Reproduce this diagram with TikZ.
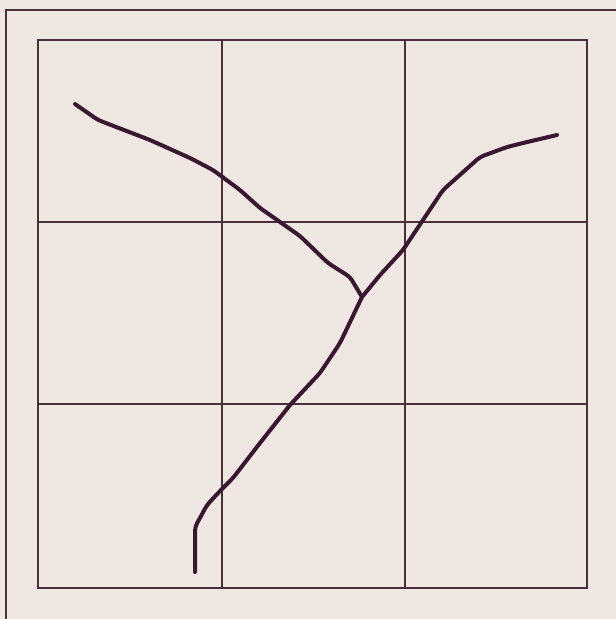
\documentclass[tikz,border=0pt]{standalone}
\begin{document}
\begin{tikzpicture}[x=1pt,y=-1pt,
  gridline/.style={draw=gridcol,line width=1.3pt},
  framebox/.style={draw=gridcol,line width=1.8pt},
  branch/.style={draw=curvecol,line width=4pt,line cap=round,line join=round,rounded corners=4pt}]
\definecolor{gridcol}{HTML}{4A3038}
\definecolor{curvecol}{HTML}{3A1731}
\definecolor{paper}{HTML}{EFE7E2}
\useasboundingbox (0,0) rectangle (616,619);
\fill[paper] (0,0) rectangle (616,619);
% outer frame
\draw[framebox] (6,640) -- (6,10) -- (640,10);
% inner square and grid
\draw[gridline] (38,40) rectangle (587,588);
\draw[gridline] (222,40) -- (222,588);
\draw[gridline] (405,40) -- (405,588);
\draw[gridline] (38,222) -- (587,222);
\draw[gridline] (38,404) -- (587,404);
% branches
\coordinate (j) at (362,297);
\draw[branch] (75,104) -- (98,120) -- (150,140) -- (190,158) -- (213,170)
  -- (240,190) -- (260,208) -- (280,222) -- (300,236) -- (328,263)
  -- (350,277) -- (j);
\draw[branch] (j) -- (380,275) -- (403,250) -- (423,220) -- (443,190)
  -- (480,157) -- (507,147) -- (523,143) -- (557,135);
\draw[branch] (j) -- (340,343) -- (320,373) -- (290,405) -- (260,443)
  -- (233,478) -- (220,491) -- (207,505) -- (195,527) -- (195,572);
\end{tikzpicture}
\end{document}
